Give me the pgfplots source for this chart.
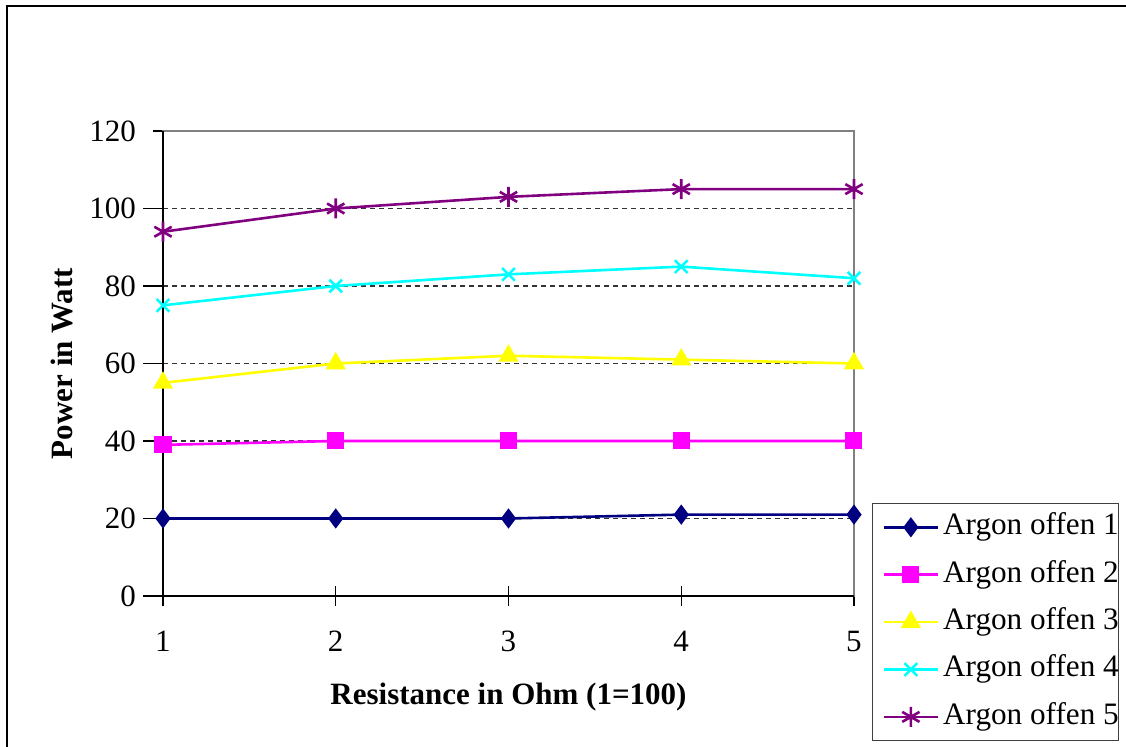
\documentclass[border=0pt]{standalone}
\usepackage{pgfplots}
\pgfplotsset{compat=1.18}
\usepackage{fontspec}
\setmainfont{Liberation Serif}
\definecolor{sNavy}{RGB}{0,0,128}
\definecolor{sMag}{RGB}{255,0,255}
\definecolor{sYel}{RGB}{255,255,0}
\definecolor{sCyan}{RGB}{0,255,255}
\definecolor{sPurp}{RGB}{128,0,128}
\definecolor{axgray}{RGB}{128,128,128}
\begin{document}
\begin{tikzpicture}
\useasboundingbox (0pt,0pt) rectangle (563pt,373.5pt);
\draw[line width=1pt] (3.5pt,0pt) -- (3.5pt,370.5pt) -- (563pt,370.5pt);
\begin{axis}[
  at={(81.5pt,75.5pt)}, anchor=south west,
  scale only axis, width=345.5pt, height=232.5pt,
  xmin=1, xmax=5, ymin=0, ymax=120,
  xtick={1,2,3,4,5}, ytick={0,20,40,60,80,100,120},
  axis line style={axgray, line width=0.7pt},
  tick style={black, line width=0.6pt},
  major tick length=10pt,
  xtick align=center,
  ytick align=outside,
  ytick style={shorten <=5pt},
  xtick pos=bottom, ytick pos=left,
  ymajorgrids,
  major grid style={black!80, dash pattern=on 2.5pt off 2pt, line width=0.55pt},
  /pgf/number format/assume math mode=true,
  ticklabel style={font=\fontsize{15.5}{18}\selectfont},
  xticklabel style={yshift=-9pt},
  label style={font=\fontsize{15.5}{18}\selectfont\bfseries},
  xlabel={Resistance in Ohm (1=100)},
  ylabel={Power in Watt},
  xlabel style={at={(axis description cs:0.5,-0.217)}, anchor=center},
  ylabel style={at={(axis description cs:-0.146,0.5)}, anchor=center},
  legend style={at={(1.026,0.2)}, anchor=north west, draw=black!75, line width=0.6pt,
    inner sep=0pt, row sep=0pt, column sep=0pt,
    font=\fontsize{15.6}{18}\selectfont,
    nodes={inner sep=0pt, text height=11pt, text depth=3.5pt, inner ysep=4.6pt, anchor=west}},
  legend cell align=left,
  legend image code/.code={\path (-5pt,0pt) (29pt,0pt);
    \draw[mark repeat=2,mark phase=2] plot coordinates {(0pt,0pt) (13.5pt,0pt) (27pt,0pt)};},
  every axis plot/.append style={line width=1.3pt},
  clip=false,
]
\addplot[sNavy, mark=diamond*, mark size=4pt, mark options={solid, fill=sNavy}]
  coordinates {(1,20)(2,20)(3,20)(4,21)(5,21)};
\addplot[sMag, mark=square*, mark size=3.6pt, mark options={solid, fill=sMag}]
  coordinates {(1,39)(2,40)(3,40)(4,40)(5,40)};
\addplot[sYel, mark=triangle*, mark size=4.5pt, mark options={solid, fill=sYel}]
  coordinates {(1,55)(2,60)(3,62)(4,61)(5,60)};
\addplot[sCyan, mark=x, mark size=4.5pt, mark options={solid}]
  coordinates {(1,75)(2,80)(3,83)(4,85)(5,82)};
\addplot[sPurp, mark=asterisk, mark size=5pt, mark options={solid}]
  coordinates {(1,94)(2,100)(3,103)(4,105)(5,105)};
\legend{Argon offen 1, Argon offen 2, Argon offen 3, Argon offen 4, Argon offen 5}
\draw[black, line width=0.8pt] (rel axis cs:0,1) -- (rel axis cs:0,0) -- (rel axis cs:1,0);
\end{axis}
\end{tikzpicture}
\end{document}
